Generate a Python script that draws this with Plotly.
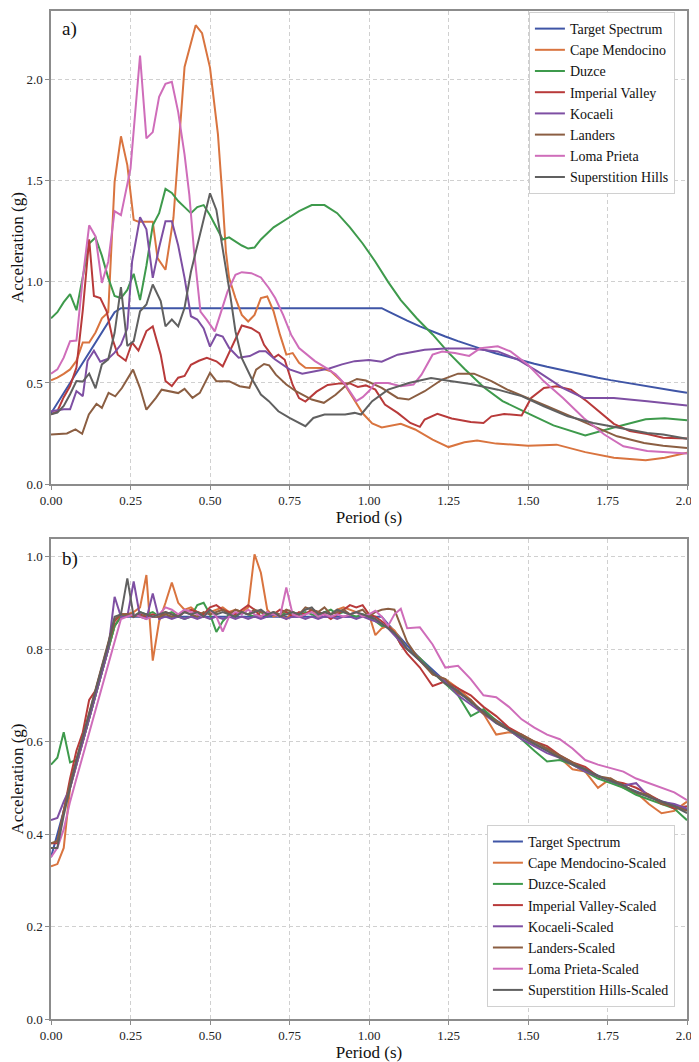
"""Response spectra of the selected ground motions, unscaled (a) and scaled (b)."""

import plotly.graph_objects as go

# ---- target spectrum (shared by both panels)
target_T = [0.00, 0.02, 0.04, 0.06, 0.08, 0.10, 0.12, 0.14, 0.16, 0.18, 0.20, 0.22,
            0.40, 0.60, 0.80, 1.00, 1.04, 1.06, 1.08, 1.10, 1.12, 1.16, 1.20, 1.24,
            1.28, 1.32, 1.36, 1.40, 1.44, 1.48, 1.52, 1.56, 1.60, 1.64, 1.68, 1.72,
            1.76, 1.80, 1.84, 1.88, 1.92, 1.96, 2.00]
target_sa = [0.35, 0.40, 0.45, 0.50, 0.55, 0.60, 0.65, 0.70, 0.75, 0.80, 0.85, 0.87,
             0.87, 0.87, 0.87, 0.87, 0.87, 0.854, 0.838, 0.823, 0.808, 0.78, 0.754, 0.73,
             0.707, 0.685, 0.665, 0.646, 0.628, 0.611, 0.595, 0.58, 0.566, 0.552, 0.539, 0.526,
             0.514, 0.503, 0.492, 0.481, 0.471, 0.462, 0.452]

# ---- panel a) unscaled records
cape_T = [0, .02, .04, .06, .08, .10, .12, .14, .16, .18, .20, .22, .24, .26, .275, .30, .32,
          .335, .36, .385, .40, .42, .455, .475, .50, .525, .54, .55, .56, .58, .60, .62, .64,
          .66, .68, .70, .72, .74, .76, .78, .80, .85, .88, .92, .95, .98, 1.01, 1.04, 1.10,
          1.145, 1.20, 1.25, 1.30, 1.34, 1.40, 1.50, 1.59, 1.68, 1.77, 1.87, 1.93, 2.0]
cape_sa = [.513, .526, .545, .567, .61, .70, .70, .75, .82, .85, 1.495, 1.72, 1.578, 1.307, 1.298,
           1.298, 1.298, 1.118, 1.06, 1.316, 1.645, 2.063, 2.27, 2.23, 2.06, 1.73, 1.40, 1.15, 1.02,
           .92, .837, .804, .837, .92, .928, .854, .739, .64, .648, .60, .575, .574, .558, .50, .426,
           .35, .30, .28, .298, .27, .22, .183, .207, .215, .20, .19, .195, .158, .13, .118, .13, .155]

duzce_T = [0, .02, .04, .06, .08, .10, .12, .14, .16, .18, .20, .22, .24, .26, .28, .30, .32, .34,
           .36, .38, .40, .42, .44, .46, .48, .50, .52, .54, .56, .58, .60, .62, .64, .66, .70, .74,
           .78, .82, .86, .90, .94, .98, 1.02, 1.06, 1.10, 1.15, 1.20, 1.25, 1.30, 1.36, 1.42, 1.50,
           1.58, 1.68, 1.77, 1.87, 1.93, 2.0]
duzce_sa = [.82, .85, .90, .94, .86, 1.02, 1.19, 1.22, 1.13, 1.02, .93, .92, .96, 1.04, .91, 1.08,
            1.28, 1.34, 1.46, 1.44, 1.40, 1.37, 1.34, 1.37, 1.38, 1.33, 1.27, 1.21, 1.22, 1.20, 1.18,
            1.165, 1.17, 1.21, 1.27, 1.31, 1.35, 1.38, 1.38, 1.34, 1.27, 1.19, 1.10, 1.00, .91, .82,
            .74, .65, .57, .48, .41, .35, .29, .24, .28, .32, .325, .315]

imperial_T = [0, .02, .04, .06, .08, .10, .12, .135, .155, .175, .195, .21, .235, .255, .275, .30,
              .32, .345, .36, .38, .40, .42, .44, .465, .49, .52, .54, .60, .63, .655, .67, .70,
              .715, .735, .76, .78, .80, .835, .87, .91, .94, .965, .99, 1.02, 1.05, 1.09, 1.13,
              1.16, 1.175, 1.215, 1.26, 1.32, 1.36, 1.385, 1.425, 1.48, 1.51, 1.55, 1.59, 1.635,
              1.685, 1.73, 1.77, 1.82, 1.875, 1.925, 2.0]
imperial_sa = [.345, .36, .43, .485, .576, .86, 1.21, .93, .92, .855, .71, .64, .61, .70, .66, .757,
               .78, .64, .51, .485, .526, .535, .59, .61, .625, .607, .582, .784, .771, .746, .689,
               .624, .64, .615, .49, .425, .408, .457, .49, .498, .498, .48, .488, .467, .393, .352,
               .302, .283, .319, .347, .324, .307, .302, .335, .347, .339, .426, .475, .484, .467,
               .41, .352, .298, .262, .248, .229, .225]

kocaeli_T = [0, .02, .04, .06, .08, .10, .115, .135, .155, .18, .20, .22, .24, .255, .28, .30, .32,
             .34, .36, .38, .40, .42, .44, .46, .48, .50, .52, .54, .56, .59, .625, .655, .675,
             .705, .75, .79, .83, .875, .915, .955, 1.0, 1.04, 1.09, 1.175, 1.24, 1.32, 1.405,
             1.47, 1.53, 1.61, 1.675, 1.77, 1.875, 2.0]
kocaeli_sa = [.36, .365, .37, .37, .46, .435, .61, .66, .605, .62, .65, .69, .77, 1.10, 1.32, 1.26,
              1.02, 1.17, 1.30, 1.30, 1.18, 1.02, .83, .814, .77, .68, .74, .73, .674, .625, .633,
              .657, .657, .616, .567, .546, .559, .572, .592, .608, .614, .605, .64, .664, .67, .67,
              .656, .614, .557, .475, .426, .426, .41, .388]

landers_T = [0, .05, .077, .098, .119, .143, .16, .181, .202, .223, .258, .28, .30, .33, .348, .374,
             .40, .42, .445, .468, .50, .52, .56, .593, .624, .645, .67, .686, .707, .74, .77, .82,
             .858, .895, .936, .962, .99, 1.04, 1.09, 1.125, 1.175, 1.23, 1.28, 1.33, 1.385, 1.435,
             1.50, 1.56, 1.635, 1.705, 1.78, 1.865, 1.925, 2.0]
landers_sa = [.245, .25, .27, .249, .344, .397, .377, .451, .434, .475, .566, .475, .368, .426, .467,
              .458, .45, .471, .426, .451, .55, .509, .509, .484, .476, .566, .594, .587, .541, .492,
              .459, .418, .402, .442, .50, .52, .512, .476, .426, .418, .459, .517, .546, .546, .509,
              .467, .426, .385, .335, .286, .236, .203, .19, .178]

loma_T = [0, .02, .04, .06, .08, .10, .12, .14, .16, .18, .20, .22, .25, .28, .30, .32, .34, .36,
          .38, .40, .42, .435, .45, .47, .49, .515, .535, .555, .58, .60, .63, .66, .685, .705, .73,
          .755, .78, .805, .83, .865, .895, .925, .96, .98, 1.0, 1.02, 1.06, 1.10, 1.14, 1.165,
          1.20, 1.23, 1.27, 1.315, 1.35, 1.405, 1.445, 1.50, 1.55, 1.61, 1.675, 1.74, 1.80, 1.875,
          1.925, 2.0]
loma_sa = [.546, .567, .625, .707, .71, 1.02, 1.28, 1.225, .995, 1.10, 1.35, 1.33, 1.56, 2.12, 1.71,
           1.741, 1.915, 1.98, 1.99, 1.84, 1.63, 1.43, 1.15, .853, .812, .755, .853, .952, 1.035,
           1.048, 1.043, 1.022, .97, .92, .837, .739, .673, .64, .608, .575, .543, .493, .41, .43,
           .46, .50, .50, .484, .492, .541, .64, .656, .648, .634, .672, .681, .656, .59, .508, .426,
           .327, .245, .187, .163, .158, .151]

superstition_T = [0, .02, .04, .06, .08, .10, .12, .14, .16, .18, .20, .22, .24, .26, .28, .30, .32,
                  .345, .36, .38, .40, .42, .44, .46, .48, .50, .52, .535, .55, .565, .58, .60, .63,
                  .66, .685, .715, .75, .78, .80, .825, .86, .895, .925, .955, .975, 1.01, 1.06,
                  1.125, 1.195, 1.25, 1.32, 1.405, 1.48, 1.55, 1.625, 1.705, 1.79, 1.875, 1.925, 2.0]
superstition_sa = [.345, .354, .386, .444, .51, .507, .546, .474, .592, .617, .748, .974, .683, .707,
                   .855, .888, .987, .905, .78, .814, .78, .872, 1.05, 1.18, 1.316, 1.438, 1.356,
                   1.216, 1.068, .92, .756, .623, .525, .443, .41, .36, .327, .303, .286, .327, .344,
                   .344, .344, .352, .344, .41, .467, .50, .524, .511, .495, .467, .435, .385, .335,
                   .302, .278, .253, .245, .224]

# ---- panel b) scaled records on a common period grid
scaled_T = [0.00, 0.02, 0.04, 0.06, 0.08, 0.10, 0.12, 0.14, 0.16, 0.18,
            0.20, 0.22, 0.24, 0.26, 0.28, 0.30, 0.32, 0.34, 0.36, 0.38,
            0.40, 0.42, 0.44, 0.46, 0.48, 0.50, 0.52, 0.54, 0.56, 0.58,
            0.60, 0.62, 0.64, 0.66, 0.68, 0.70, 0.72, 0.74, 0.76, 0.78,
            0.80, 0.82, 0.84, 0.86, 0.88, 0.90, 0.92, 0.94, 0.96, 0.98,
            1.00, 1.02, 1.04, 1.06, 1.08, 1.10, 1.12, 1.16, 1.20, 1.24,
            1.28, 1.32, 1.36, 1.40, 1.44, 1.48, 1.52, 1.56, 1.60, 1.64,
            1.68, 1.72, 1.76, 1.80, 1.84, 1.88, 1.92, 1.96, 2.00]

cape_scaled = [.33, .335, .37, .50, .55, .60, .65, .70, .75, .80,
               .85, .87, .875, .88, .89, .96, .775, .86, .90, .944,
               .90, .885, .89, .88, .875, .88, .885, .89, .88, .885,
               .88, .89, 1.005, .965, .885, .87, .875, .865, .88, .87,
               .875, .885, .87, .88, .875, .885, .89, .885, .88, .87,
               .875, .83, .845, .85, .84, .82, .80, .78, .745, .735,
               .715, .69, .66, .615, .62, .615, .59, .585, .565, .54,
               .535, .50, .52, .50, .49, .465, .445, .45, .47]
duzce_scaled = [.55, .565, .62, .555, .56, .60, .65, .70, .75, .80,
                .85, .87, .875, .87, .88, .875, .88, .87, .875, .88,
                .87, .865, .87, .895, .90, .875, .837, .86, .875, .87,
                .88, .875, .87, .88, .87, .875, .87, .88, .875, .87,
                .88, .875, .87, .88, .885, .875, .88, .875, .87, .875,
                .87, .86, .85, .85, .835, .81, .80, .78, .75, .725,
                .70, .655, .67, .645, .625, .605, .58, .557, .56, .55,
                .535, .52, .51, .50, .485, .475, .465, .455, .43]
imperial_scaled = [.38, .38, .45, .52, .58, .62, .69, .71, .76, .81,
                   .86, .875, .875, .87, .875, .87, .875, .87, .88, .875,
                   .87, .88, .885, .88, .875, .89, .895, .885, .88, .875,
                   .885, .895, .885, .87, .88, .875, .885, .88, .87, .88,
                   .875, .885, .88, .875, .865, .875, .885, .895, .89, .895,
                   .875, .87, .86, .85, .835, .81, .79, .76, .72, .73,
                   .715, .70, .675, .655, .63, .615, .60, .59, .57, .555,
                   .545, .525, .515, .51, .50, .485, .47, .455, .46]
kocaeli_scaled = [.43, .435, .47, .50, .55, .60, .65, .70, .75, .80,
                  .913, .87, .87, .946, .87, .865, .92, .865, .87, .865,
                  .87, .865, .87, .865, .87, .865, .87, .865, .87, .865,
                  .87, .865, .87, .865, .87, .875, .87, .865, .87, .87,
                  .865, .87, .865, .87, .87, .865, .87, .87, .865, .87,
                  .865, .86, .855, .845, .83, .815, .80, .775, .75, .73,
                  .70, .68, .66, .64, .625, .605, .59, .575, .565, .55,
                  .535, .525, .515, .505, .51, .48, .47, .465, .455]
landers_scaled = [.38, .385, .45, .51, .56, .61, .66, .71, .76, .81,
                  .865, .875, .875, .875, .87, .875, .87, .87, .875, .87,
                  .875, .88, .875, .87, .88, .875, .88, .885, .875, .885,
                  .88, .875, .885, .88, .875, .88, .875, .885, .88, .875,
                  .89, .885, .88, .89, .875, .88, .885, .875, .88, .885,
                  .87, .88, .885, .887, .885, .85, .815, .775, .745, .735,
                  .705, .69, .66, .645, .625, .615, .60, .585, .57, .555,
                  .54, .525, .52, .505, .49, .485, .465, .46, .45]
loma_scaled = [.35, .37, .41, .47, .52, .57, .62, .67, .72, .77,
               .82, .865, .87, .875, .87, .865, .87, .875, .89, .885,
               .875, .885, .88, .875, .87, .885, .87, .838, .87, .88,
               .875, .885, .875, .87, .88, .875, .87, .933, .875, .87,
               .875, .88, .87, .875, .87, .875, .87, .875, .88, .87,
               .875, .883, .87, .85, .875, .887, .845, .847, .81, .76,
               .764, .735, .70, .696, .675, .648, .63, .615, .605, .585,
               .56, .55, .543, .535, .52, .51, .50, .49, .473]
superstition_scaled = [.37, .37, .44, .50, .56, .61, .66, .71, .76, .81,
                       .87, .875, .953, .87, .88, .875, .87, .875, .88, .875,
                       .87, .88, .875, .88, .87, .885, .875, .88, .875, .87,
                       .88, .875, .88, .885, .875, .88, .87, .875, .88, .875,
                       .885, .89, .875, .88, .875, .885, .88, .875, .88, .875,
                       .87, .865, .855, .845, .835, .82, .80, .775, .75, .725,
                       .71, .685, .665, .64, .625, .61, .595, .58, .565, .55,
                       .54, .525, .515, .505, .49, .48, .47, .46, .445]

colors = ["#3F55A6", "#D9743F", "#3E9A4C", "#B83A3A", "#7E4FA3", "#8B5E42", "#CF6DBA", "#606060"]
FONT = "Liberation Serif"

fig = go.Figure()

top = [("Target Spectrum", target_T, target_sa),
       ("Cape Mendocino", cape_T, cape_sa),
       ("Duzce", duzce_T, duzce_sa),
       ("Imperial Valley", imperial_T, imperial_sa),
       ("Kocaeli", kocaeli_T, kocaeli_sa),
       ("Landers", landers_T, landers_sa),
       ("Loma Prieta", loma_T, loma_sa),
       ("Superstition Hills", superstition_T, superstition_sa)]
for (name, xs, ys), c in zip(top, colors):
    fig.add_trace(go.Scatter(x=xs, y=ys, name=name, mode="lines",
                             line=dict(color=c, width=2), xaxis="x", yaxis="y",
                             legend="legend"))

bottom = [("Target Spectrum", target_T, target_sa),
          ("Cape Mendocino-Scaled", scaled_T, cape_scaled),
          ("Duzce-Scaled", scaled_T, duzce_scaled),
          ("Imperial Valley-Scaled", scaled_T, imperial_scaled),
          ("Kocaeli-Scaled", scaled_T, kocaeli_scaled),
          ("Landers-Scaled", scaled_T, landers_scaled),
          ("Loma Prieta-Scaled", scaled_T, loma_scaled),
          ("Superstition Hills-Scaled", scaled_T, superstition_scaled)]
for (name, xs, ys), c in zip(bottom, colors):
    fig.add_trace(go.Scatter(x=xs, y=ys, name=name, mode="lines",
                             line=dict(color=c, width=2), xaxis="x2", yaxis="y2",
                             legend="legend2"))

axis_style = dict(showline=True, mirror=True, linecolor="#8c8c8c", linewidth=1.5,
                  ticks="outside", ticklen=4, tickcolor="#8c8c8c",
                  showgrid=True, gridcolor="#d0d0d0", griddash="4px,3px", gridwidth=1,
                  zeroline=False, tickfont=dict(family=FONT, size=13, color="#222"),
                  title_font=dict(family=FONT, size=17, color="#111"))

legend_style = dict(font=dict(family=FONT, size=14, color="#111"), bgcolor="white",
                    bordercolor="#d0d0d0", borderwidth=1, xanchor="right", x=0.981)

# the page body adds an 8 px margin, so the figure is sized to fit the window
fig.update_layout(
    width=691, height=1054,
    margin=dict(l=39, r=12, t=1, b=43),
    font=dict(family=FONT),
    plot_bgcolor="white", paper_bgcolor="white",
    showlegend=True,
    xaxis=dict(domain=[0, 1], anchor="y", range=[0, 2], dtick=0.25, tickformat=".2f",
               title=dict(text="Period (s)", standoff=4), **axis_style),
    yaxis=dict(domain=[0.5307, 1], anchor="x", range=[0, 2.34], dtick=0.5, tickformat=".1f",
               title=dict(text="Acceleration (g)", standoff=6), **axis_style),
    xaxis2=dict(domain=[0, 1], anchor="y2", range=[0, 2], dtick=0.25, tickformat=".2f",
                title=dict(text="Period (s)", standoff=4), **axis_style),
    yaxis2=dict(domain=[0, 0.4762], anchor="x2", range=[0, 1.038], dtick=0.2, tickformat=".1f",
                title=dict(text="Acceleration (g)", standoff=6), **axis_style),
    legend=dict(yanchor="top", y=0.999, **legend_style),
    legend2=dict(yanchor="bottom", y=0.012, **legend_style),
    annotations=[
        dict(text="a)", xref="x domain", yref="y domain", x=0.014, y=0.99,
             xanchor="left", yanchor="top", showarrow=False,
             font=dict(family=FONT, size=19, color="#111")),
        dict(text="b)", xref="x2 domain", yref="y2 domain", x=0.014, y=0.985,
             xanchor="left", yanchor="top", showarrow=False,
             font=dict(family=FONT, size=19, color="#111")),
    ],
)

fig.write_html("out.html")
